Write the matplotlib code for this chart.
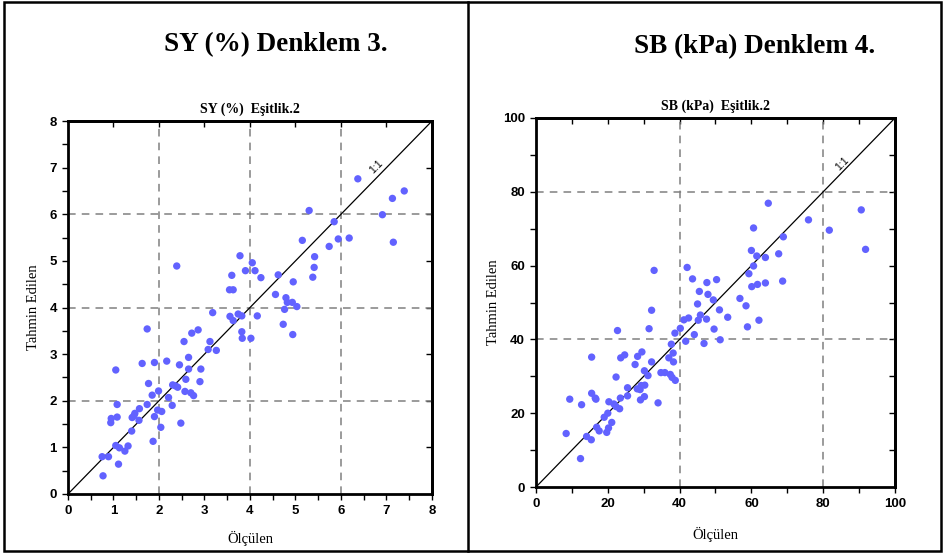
#!/usr/bin/env python

# Plotting.
import matplotlib
matplotlib.use('Agg')
import matplotlib.pyplot as plt
from matplotlib.lines import Line2D
from matplotlib.patches import Rectangle

# SY (%) data: measured vs predicted.
sy_olculen = [3.18, 3.56, 3.63, 3.74, 3.82, 4.16, 3.82, 3.83, 4.02, 1.74, 2.72, 2.86,
              2.55, 3.12, 3.08, 3.26, 1.63, 1.90, 2.17, 2.45, 2.65, 2.65, 2.92, 1.05,
              2.59, 2.90, 1.77, 1.99, 2.30, 2.36, 2.41, 2.57, 2.70, 2.76, 1.85, 2.21,
              2.29, 1.08, 1.74, 1.57, 1.47, 1.41, 1.45, 1.56, 0.95, 0.94, 1.08, 1.90,
              1.97, 2.06, 2.04, 2.48, 1.40, 1.87, 1.05, 1.13, 1.32, 1.25, 0.75, 0.89,
              1.11, 0.77, 2.39, 3.78, 4.05, 3.60, 3.90, 4.11, 3.55, 3.63, 4.24, 6.37,
              7.13, 7.39, 6.91, 5.30, 5.85, 5.15, 5.94, 6.18, 5.74, 7.15, 5.42, 4.62,
              5.41, 5.38, 4.95, 4.56, 4.79, 4.82, 4.93, 5.03, 4.76, 4.73, 4.94]
sy_tahmin = [3.89, 3.81, 3.72, 3.86, 3.82, 3.82, 3.48, 3.34, 3.34, 3.54, 3.45, 3.52,
             3.27, 3.27, 3.10, 3.08, 2.80, 2.82, 2.85, 2.77, 2.93, 2.68, 2.68, 2.66,
             2.46, 2.41, 2.37, 2.21, 2.34, 2.32, 2.29, 2.20, 2.17, 2.11, 2.12, 2.07,
             1.90, 1.92, 1.92, 1.83, 1.73, 1.64, 1.68, 1.58, 1.62, 1.53, 1.65, 1.66,
             1.80, 1.77, 1.43, 1.52, 1.35, 1.13, 1.04, 0.99, 1.03, 0.92, 0.80, 0.80,
             0.64, 0.39, 4.89, 5.11, 4.96, 4.69, 4.79, 4.79, 4.38, 4.38, 4.64, 6.76,
             6.34, 6.50, 5.99, 6.08, 5.84, 5.44, 5.47, 5.49, 5.31, 5.40, 5.09, 4.70,
             4.86, 4.65, 4.55, 4.28, 4.21, 4.11, 4.11, 4.02, 3.96, 3.64, 3.42]

# SB (kPa) data: measured vs predicted.
sb_olculen = [32.9, 42.1, 43.6, 47.6, 50.3, 45.5, 47.9, 49.4, 45.0, 51.1, 32.2,
              45.8, 53.4, 41.2, 42.5, 45.2, 47.5, 22.7, 31.5, 38.7, 40.2, 44.1, 49.6,
              41.7, 46.8, 51.3, 37.7, 38.2, 15.5, 23.6, 24.7, 28.3, 29.5, 32.2, 27.6,
              37.0, 38.3, 30.2, 31.2, 34.8, 35.9, 37.4, 37.9, 38.8, 22.3, 25.5, 30.3,
              29.3, 28.2, 29.0, 15.5, 16.5, 16.7, 23.5, 25.5, 30.2, 29.1, 34.0, 9.4,
              12.7, 20.3, 21.7, 22.3, 23.3, 20.0, 19.0, 21.1, 20.2, 19.7, 16.9, 17.6,
              14.1, 15.4, 8.4, 12.4, 64.7, 90.6, 75.9, 60.6, 81.7, 68.9, 91.8, 60.0,
              61.5, 63.9, 67.6, 60.6, 59.3, 60.1, 61.7, 63.9, 68.7, 56.8, 58.5, 58.9,
              62.1]
sb_tahmin = [58.7, 59.5, 56.4, 55.4, 56.2, 53.0, 52.2, 50.7, 49.6, 48.0, 47.9,
             46.6, 46.0, 45.3, 45.8, 45.2, 45.5, 42.4, 42.9, 41.7, 43.0, 41.3, 42.8,
             39.5, 38.9, 39.9, 38.7, 36.3, 35.2, 35.0, 35.8, 35.4, 36.6, 33.9, 33.2,
             35.0, 33.9, 31.5, 30.2, 31.0, 31.0, 30.5, 29.7, 28.9, 29.8, 26.9, 27.6,
             27.5, 26.6, 26.4, 25.4, 24.1, 23.8, 24.1, 24.7, 24.5, 23.6, 22.8, 23.8,
             22.3, 23.1, 22.5, 21.8, 21.2, 20.0, 18.9, 17.5, 16.0, 14.8, 16.2, 15.2,
             13.7, 12.8, 14.5, 7.7, 76.9, 75.1, 72.4, 70.2, 69.6, 67.8, 64.4, 64.1,
             62.6, 62.2, 63.2, 59.9, 57.8, 54.3, 54.9, 55.3, 55.8, 51.1, 49.1, 43.4,
             45.2]

# Figure.
fig = plt.figure(figsize=(9.45, 5.55), dpi=100)

serif = 'Liberation Serif'
sans = 'Liberation Sans'
dot_color = '#6262ff'


def style_axes(ax, vmax, major, minor, subtitle, xpad, ypad):
    ax.set_xlim(0, vmax)
    ax.set_ylim(0, vmax)

    # Grid lines at every second major step.
    for v in range(2 * major, vmax, 2 * major):
        ax.axvline(v, color='#808080', lw=1.1, ls=(0, (5, 4)), zorder=1)
        ax.axhline(v, color='#808080', lw=1.1, ls=(0, (5, 4)), zorder=1)

    # 1:1 line.
    ax.plot([0, vmax], [0, vmax], color='black', lw=0.9, zorder=2)

    ax.set_xticks(range(0, vmax + 1, major))
    ax.set_yticks(range(0, vmax + 1, major))
    ax.set_xticks([v * minor for v in range(int(vmax / minor) + 1)], minor=True)
    ax.set_yticks([v * minor for v in range(int(vmax / minor) + 1)], minor=True)
    ax.tick_params(which='both', direction='out', length=4, width=1.0,
                   labelsize=9.5, pad=4)
    for lab in ax.get_xticklabels() + ax.get_yticklabels():
        lab.set_fontfamily(sans)
        lab.set_fontweight('bold')

    for s in ax.spines.values():
        s.set_linewidth(2.0)

    # Inward ticks on the top and right sides.
    step = major if vmax < 50 else minor
    top = ax.secondary_xaxis('top')
    top.set_xticks([v * step for v in range(1, int(vmax / step))])
    top.tick_params(direction='in', length=4, width=1.0, labeltop=False)
    top.spines['top'].set_linewidth(2.0)
    right = ax.secondary_yaxis('right')
    right.set_yticks([v * step for v in range(1, int(vmax / step))])
    right.tick_params(direction='in', length=4, width=1.0, labelright=False)
    right.spines['right'].set_linewidth(2.0)

    ax.set_xlabel('Ölçülen', family=serif, fontsize=10.5, labelpad=xpad)
    ax.set_ylabel('Tahmin Edilen', family=serif, fontsize=10.5, labelpad=ypad)
    ax.set_title(subtitle, family=serif, fontweight='bold', fontsize=10, pad=6)


# Left panel.
ax1 = fig.add_axes([68 / 945, 61 / 555, 364 / 945, 373 / 555])
style_axes(ax1, 8, 1, 0.5, 'SY (%)  Eşitlik.2', 10, 7)
ax1.scatter(sy_olculen, sy_tahmin, s=28, color=dot_color, edgecolors='none', zorder=3)
ax1.text(6.78, 7.02, '1:1', rotation=45, rotation_mode='anchor', ha='center',
         va='center', fontsize=7.5, family=sans)

# Right panel.
ax2 = fig.add_axes([536 / 945, 68 / 555, 359 / 945, 369 / 555])
style_axes(ax2, 100, 20, 10, 'SB (kPa)  Eşitlik.2', 12, 2)
ax2.scatter(sb_olculen, sb_tahmin, s=28, color=dot_color, edgecolors='none', zorder=3)
ax2.text(85.2, 87.5, '1:1', rotation=45, rotation_mode='anchor', ha='center',
         va='center', fontsize=7.5, family=sans)

# Big headings.
fig.text(276 / 945, 1 - 45 / 555, 'SY (%) Denklem 3.', family=serif,
         fontweight='bold', fontsize=19.5, ha='center', va='center')
fig.text(755 / 945, 1 - 47 / 555, 'SB (kPa) Denklem 4.', family=serif,
         fontweight='bold', fontsize=19.5, ha='center', va='center')

# Outer frame and divider.
fig.add_artist(Rectangle((4 / 945, 4 / 555), 937 / 945, 549 / 555,
                         transform=fig.transFigure, fill=False, lw=1.8,
                         edgecolor='black'))
fig.add_artist(Line2D([468 / 945, 468 / 945], [4 / 555, 553 / 555],
                      transform=fig.transFigure, color='black', lw=1.8))

# Save figure.
fig.savefig('out.png', dpi=100)
